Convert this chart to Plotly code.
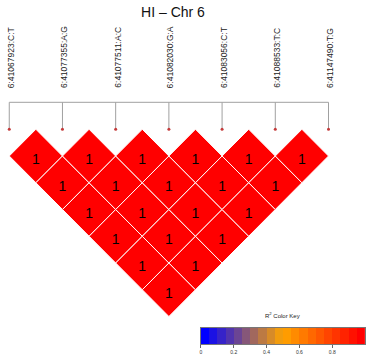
import plotly.graph_objects as go

# ---------------- data ----------------
title_text = "HI \u2013 Chr 6"
snp_labels = ["6:41067923:C:T", "6:41077355:A:G", "6:41077511:A:C",
              "6:41082030:G:A", "6:41083056:C:T", "6:41088533:T:C",
              "6:41147490:T:G"]
# upper-triangle R^2 values: row i holds pairs (i, i+1), (i, i+2), ...
r2_rows = [
    [1, 1, 1, 1, 1, 1],
    [1, 1, 1, 1, 1],
    [1, 1, 1, 1],
    [1, 1, 1],
    [1, 1],
    [1],
]
key_ticks = [0, 0.2, 0.4, 0.6, 0.8]
key_tick_labels = ["0", "0.2", "0.4", "0.6", "0.8"]
key_title = "R<sup>2</sup> Color Key"

# ---------------- style ----------------
W, H = 366, 360
UNIT = 53.5          # px per SNP step
X0_PX = 8.3          # px of first SNP
Y0_PX = 129.25       # px of the top of first-row diamonds
N_COL = 20
anchors = [(0, 0, 255), (255, 165, 0), (255, 0, 0)]


def ramp(t):
    seg = min(int(t * 2), 1)
    f = t * 2 - seg
    a, b = anchors[seg], anchors[seg + 1]
    return tuple(round(a[k] + (b[k] - a[k]) * f) for k in range(3))


palette = ["rgb(%d,%d,%d)" % ramp(k / (N_COL - 1)) for k in range(N_COL)]


def color_for(v):
    idx = min(int(v * N_COL), N_COL - 1)
    return palette[idx]


fig = go.Figure()
n = len(snp_labels)

# diamonds
tx, ty, tt = [], [], []
for i, row in enumerate(r2_rows):
    for k, v in enumerate(row):
        j = i + k + 1
        cx = (i + j) / 2
        cy = -(j - i) / 2
        fig.add_trace(go.Scatter(
            x=[cx - 0.5, cx, cx + 0.5, cx, cx - 0.5],
            y=[cy, cy + 0.5, cy, cy - 0.5, cy],
            mode="lines", fill="toself", fillcolor=color_for(v),
            line=dict(color="white", width=1), hoverinfo="skip",
            showlegend=False, xaxis="x", yaxis="y"))
        tx.append(cx)
        ty.append(cy)
        tt.append(("%.2f" % v).rstrip("0").rstrip("."))

fig.add_trace(go.Scatter(
    x=tx, y=[y - 4.5 / UNIT for y in ty], text=tt, mode="text",
    textfont=dict(family="Liberation Sans, Arial", size=14, color="black"),
    textposition="middle center", showlegend=False, hoverinfo="skip"))

# map lines
top_y = (Y0_PX - 102.3) / UNIT
fig.add_trace(go.Scatter(
    x=[0, n - 1], y=[top_y, top_y], mode="lines",
    line=dict(color="#a0a0a0", width=1), showlegend=False, hoverinfo="skip"))
for i in range(n):
    fig.add_trace(go.Scatter(
        x=[i, i], y=[top_y, 0.02], mode="lines",
        line=dict(color="#a0a0a0", width=1), showlegend=False,
        hoverinfo="skip"))
fig.add_trace(go.Scatter(
    x=list(range(n)), y=[0] * n, mode="markers",
    marker=dict(color="#c43a3a", size=3), showlegend=False, hoverinfo="skip"))

# SNP labels
lab_y = (Y0_PX - 90.0) / UNIT
for i, lab in enumerate(snp_labels):
    fig.add_annotation(x=i, y=lab_y, xref="x", yref="y", text=lab,
                       textangle=-90, showarrow=False, xanchor="center",
                       yanchor="bottom", xshift=1.5,
                       font=dict(family="Liberation Sans, Arial", size=8.5,
                                 color="#222"))

# colour key
edges = [k / N_COL for k in range(N_COL + 1)]
mids = [(edges[k] + edges[k + 1]) / 2 for k in range(N_COL)]
cscale = []
for k, c in enumerate(palette):
    cscale.append([k / N_COL, c])
    cscale.append([(k + 1) / N_COL, c])
fig.add_trace(go.Heatmap(
    x=edges, y=[0, 1], z=[mids], zmin=0, zmax=1, colorscale=cscale,
    showscale=False, xaxis="x2", yaxis="y2", hoverinfo="skip"))
fig.add_annotation(x=0.5, y=1 - 320.5 / H, xref="x2 domain", yref="paper",
                   text=key_title, showarrow=False,
                   font=dict(family="Liberation Sans, Arial", size=6,
                             color="#222"))

fig.update_layout(
    width=W, height=H, margin=dict(l=0, r=0, t=0, b=0),
    paper_bgcolor="white", plot_bgcolor="white",
    title=dict(text=title_text, x=173 / W, xanchor="center",
               y=1 - 12.5 / H, yanchor="middle",
               font=dict(family="Liberation Sans, Arial", size=14,
                         color="#111")),
    xaxis=dict(range=[-X0_PX / UNIT, (W - X0_PX) / UNIT], visible=False,
               domain=[0, 1]),
    yaxis=dict(range=[(Y0_PX - H) / UNIT, Y0_PX / UNIT], visible=False,
               domain=[0, 1]),
    xaxis2=dict(domain=[201 / W, 1], range=[0, 1], anchor="y2",
                tickvals=key_ticks, ticktext=key_tick_labels,
                ticks="outside", ticklen=3, tickcolor="#666",
                tickfont=dict(family="Liberation Sans, Arial", size=5,
                              color="#333"),
                showline=True, linecolor="#777", linewidth=1, mirror=True,
                showgrid=False, zeroline=False),
    yaxis2=dict(domain=[1 - 344.3 / H, 1 - 327.7 / H], range=[0, 1],
                anchor="x2", showticklabels=False, ticks="",
                showline=True, linecolor="#777", linewidth=1, mirror=True,
                showgrid=False, zeroline=False),
)

fig.write_html("out.html", config={"displayModeBar": False},
               post_script="document.body.style.margin='0px';"
                           "document.body.style.overflow='hidden';")
